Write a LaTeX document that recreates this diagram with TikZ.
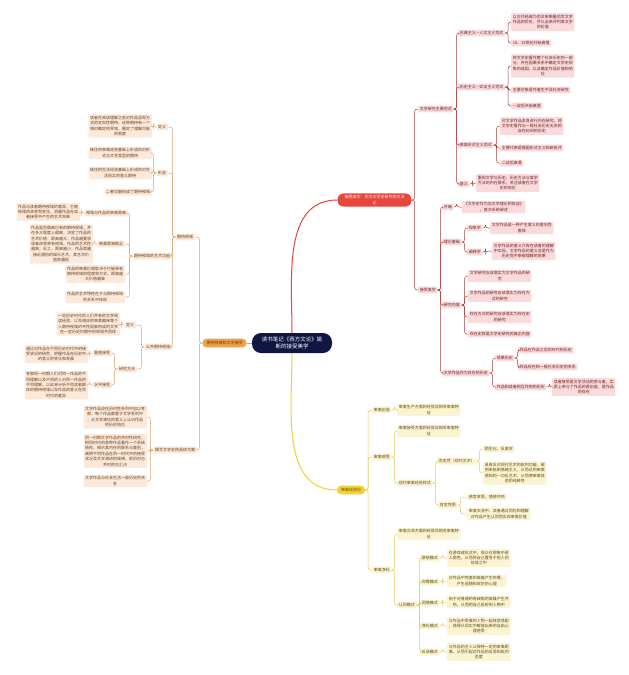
\documentclass[tikz,border=0pt]{standalone}
\usepackage{fontspec}
\setmainfont{Noto Sans CJK SC}
\definecolor{navy}{HTML}{101641}
\definecolor{redmain}{HTML}{E8453C}
\definecolor{redfill}{HTML}{FADADB}
\definecolor{redtext}{HTML}{6B1F1F}
\definecolor{redline}{HTML}{A63A3A}
\definecolor{yelmain}{HTML}{F5D130}
\definecolor{yelfill}{HTML}{FCF3D2}
\definecolor{yeltext}{HTML}{5A4A10}
\definecolor{yelline}{HTML}{E5C85A}
\definecolor{ormain}{HTML}{F0A045}
\definecolor{orfill}{HTML}{FBEADC}
\definecolor{ortext}{HTML}{6A3A15}
\definecolor{orline}{HTML}{D9A46A}
\newcommand\mapfont{\fontsize{4}{5.4}\selectfont}
\tikzset{
  box/.style={font=\mapfont,align=center,inner sep=1.6pt,rounded corners=1pt},
  rbox/.style={box,fill=redfill,text=redtext,anchor=west},
  ybox/.style={box,fill=yelfill,text=yeltext,anchor=west},
  obox/.style={box,fill=orfill,text=ortext,anchor=east},
  rgt/.style={to path={(\tikztostart.east) -- ++(3pt,0) |- (\tikztotarget.west)}},
  lft/.style={to path={(\tikztostart.west) -- ++(-3pt,0) |- (\tikztotarget.east)}},
}
\begin{document}
\begin{tikzpicture}[x=1pt,y=-1pt]
  \fill[white] (0,0) rectangle (629,675);
  \useasboundingbox (0,0) rectangle (629,675);

  % centre and the three branches
  \node[fill=navy,text=white,font=\fontsize{5.5}{7.5}\selectfont,align=center,
        rounded corners=9pt,minimum width=80pt,minimum height=20pt,inner sep=2pt]
    (root) at (292,343) {读书笔记《西方文论》姚\\斯的接受美学};
  \node[fill=redmain,text=white,font=\mapfont,align=center,rounded corners=6pt,
        inner xsep=7pt,inner ysep=2pt] (accept) at (374.5,200)
    {接受美学：作为文学史研究的方法\\论};
  \node[fill=yelmain,text=yeltext,font=\mapfont,rounded corners=4pt,
        inner xsep=4pt,inner ysep=2.5pt] (aes) at (351,490) {审美经验论};
  \node[fill=ormain,text=ortext,font=\mapfont,rounded corners=4pt,
        inner xsep=4pt,inner ysep=2.5pt] (expect) at (224.5,343) {期待视域和文学接受};

  % red branch
  \node[rbox] (para) at (418,109) {文学研究主要范式};
  \node[rbox] (para1) at (458,33) {古典主义—人文主义范式};
  \node[rbox] (para1a) at (511,22) {以古代经典为范本来衡量后世文学\\作品的优劣，并以此来评判某文学\\的价值};
  \node[rbox] (para1b) at (511,43) {18、19世纪开始衰落};
  \node[rbox] (para2) at (458,87) {历史主义—实证主义范式};
  \node[rbox] (para2a) at (511,66) {将文学史看作整个社会历史的一部\\分，并在因果关系中确定文学史现\\象的成因，以此确定作品价值和地\\位};
  \node[rbox] (para2b) at (511,90) {主要对象是作者生平及社会研究};
  \node[rbox] (para2c) at (511,106) {一战后开始衰落};
  \node[rbox] (para3) at (458,145) {审美形式主义范式};
  \node[rbox] (para3a) at (500,126) {对文学作品本身进行内在研究，将\\文学史看作与一般社会历史无关的\\自在封闭的历史};
  \node[rbox] (para3b) at (500,148) {主要代表是俄国形式主义和新批评};
  \node[rbox] (para3c) at (500,163) {二战后衰落};
  \node[rbox] (para4) at (458,184) {意义};
  \node[rbox] (para4a) at (476,183) {重视文学与历史、历史方法与美学\\方法的内在联系，关注读者在文学\\史的地位};

  \node[rbox] (rec) at (418,290) {接受美学};
  \node[rbox] (start) at (442,207) {开端};
  \node[rbox] (startx) at (462,207) {《文学史作为向文学理论的挑战》\\，首次系统阐述};
  \node[rbox] (base) at (442,242) {理论基础};
  \node[rbox] (phen) at (467,228) {现象学};
  \node[rbox] (phenx) at (490,228) {文学作品是一种产生意义的意向性\\客体};
  \node[rbox] (herm) at (467,252) {阐释学};
  \node[rbox] (hermx) at (492,251) {文学作品的意义只有在读者的理解\\中实现，文学作品的意义总是作为\\历史而不断被理解的效果};
  \node[rbox] (cont) at (442,305) {研究内容};
  \node[rbox] (cont1) at (468,276) {文学研究应该落实为文学作品的研\\究};
  \node[rbox] (cont2) at (468,296) {文学作品的研究应该落实为存在方\\式的研究};
  \node[rbox] (cont3) at (468,317) {存在方式的研究应该落实为存在史\\的研究};
  \node[rbox] (cont4) at (468,334) {存在史就是文学史研究的真正内容};
  \node[rbox] (hist) at (442,373) {文学作品作为存在的历史};
  \node[rbox] (eff) at (495,358) {效果历史};
  \node[rbox] (eff1) at (518,350) {作品在作品之后的时代的历史};
  \node[rbox] (eff2) at (518,367) {作品存在和一般社会历史的关系};
  \node[rbox] (inter) at (495,387) {作品和读者相互作用的历史};
  \node[rbox] (interx) at (552,387) {读者接受是文学活动的参与者，实\\质上参与了作品的再创造，是作品\\的存在};

  % yellow branch
  \node[ybox] (poi) at (372,410) {审美创造};
  \node[ybox] (poix) at (397,410) {审美生产方面的经验及相关审美特\\征};
  \node[ybox] (ais) at (372,457) {审美感受};
  \node[ybox] (aisx) at (397,431) {审美接受方面的经验及相关审美特\\征};
  \node[ybox] (modern) at (397,483) {现代审美经验样式};
  \node[ybox] (neg) at (437,461) {否定性（现代艺术）};
  \node[ybox] (neg1) at (483,449) {陌生化、反美学};
  \node[ybox] (neg2) at (483,473) {具有反对现代艺术的批判功能，被\\用来抵制情绪主义，从而达到审美\\感知的一切反艺术，从而使审美体\\验的纯粹性};
  \node[ybox] (pos) at (438,505) {肯定性质};
  \node[ybox] (pos1) at (467,497) {感官享受、情感共鸣};
  \node[ybox] (pos2) at (467,514) {审美交流中，读者通过同化和理解\\对作品产生认同而实现审美价值};
  \node[ybox] (kath) at (372,570) {审美净化};
  \node[ybox] (kathx) at (397,534) {审美交流方面的经验及相关审美特\\征};
  \node[ybox] (ident) at (397,605) {认同模式};
  \node[ybox] (m1) at (420,558) {联想模式};
  \node[ybox] (m1x) at (447,558) {在游戏或仪式中，观众在想象中进\\入角色，从而将自己置身于他人的\\处境之中};
  \node[ybox] (m2) at (420,582) {仰慕模式};
  \node[ybox] (m2x) at (447,581) {对作品中完美的英雄产生钦慕，\\产生追随和效仿的心理};
  \node[ybox] (m3) at (420,603) {同情模式};
  \node[ybox] (m3x) at (447,602) {由于对普通的有缺陷的英雄产生共\\鸣，从而把自己投射到人物中};
  \node[ybox] (m4) at (420,626) {净化模式};
  \node[ybox] (m4x) at (447,626) {与作品中受难的人物一起体验悲剧\\，获得从现实中解放出来的自由心\\理感受};
  \node[ybox] (m5) at (420,652) {反讽模式};
  \node[ybox] (m5x) at (447,652) {与作品的主人公保持一定的审美距\\离，从而引起对作品的反思和批判\\态度};

  % orange branch
  \node[obox] (hor) at (195,237) {期待视域};
  \node[obox] (def) at (168,127) {定义};
  \node[obox] (defx) at (152,126) {读者在阅读理解之前对作品显现方\\式的定向性期待，这种期待有一个\\相对确定的界域，圈定了理解可能\\的限度};
  \node[obox] (form) at (168,173) {形态};
  \node[obox] (form1) at (152,153) {既往的审美经验基础上形成的对形\\式与文学类型的期待};
  \node[obox] (form2) at (152,173) {既往的生活经验基础上形成的对生\\活现实的意义期待};
  \node[obox] (form3) at (152,192) {二者交融构成了期待视域};
  \node[obox] (rel) at (172,256) {期待视域的艺术功能};
  \node[obox] (rel1) at (128,213) {视域与作品的审美距离};
  \node[obox] (rel1x) at (80,212) {作品与读者期待视域的差异，它随\\视域的改变而变化，测量作品在读\\者接受中产生的艺术效果};
  \node[obox] (rel2) at (125,244) {审美距离概念};
  \node[obox] (rel2x) at (93,244) {作品是否偏离已有的期待视域，并\\在多大程度上偏离，决定了作品的\\艺术价值：距离越大，作品越要求\\读者改变原有视域，作品的艺术性\\越高；反之，距离越小，作品就越\\接近通俗的娱乐艺术，其艺术价\\值就越低};
  \node[obox] (rel3) at (125,274) {作品的审美价值取决于打破原有\\期待视域的程度和方式，距离越\\大价值越高};
  \node[obox] (rel4) at (125,297) {作品的艺术特性在于与期待视域\\的关系中体现};
  \node[obox] (pub) at (172,347) {公共期待视域};
  \node[obox] (pdef) at (136,325) {定义};
  \node[obox] (pdefx) at (120,324) {一定历史时代的人们共有的文学阅\\读经验，以及相应的审美趣味等个\\人期待视域的共性因素构成的文学\\在一定历史时期中的视域共同体};
  \node[obox] (meth) at (137,369) {研究方法};
  \node[obox] (vert) at (112,353) {垂直接受};
  \node[obox] (vertx) at (88,354) {通过对作品在不同历史时代中的接\\受状况的研究，把握作品在历史中\\的意义的变化和发展};
  \node[obox] (horz) at (112,385) {水平接受};
  \node[obox] (horzx) at (88,385) {考察同一时期人们对同一作品的不\\同理解以及不同的人对同一作品的\\不同理解，以此来分析不同读者群\\体的期待视域以及作品的意义在同\\时代的差异};
  \node[obox] (plan) at (197,450) {撰写文学史的具体方案};
  \node[obox] (plan1) at (147,417) {文学作品应在历时性系列中加以考\\察，每个作品都置于文学系列中\\，从文学演化的意义上认识作品\\的历史地位};
  \node[obox] (plan2) at (147,451) {同一时期文学作品的共时性研究，\\把同时代的各种作品看作一个系统\\结构，揭示其内在的联系与差别，\\阐明不同作品在同一时代中的接受\\状况及文学演进的规律，即历时与\\共时的交汇点};
  \node[obox] (plan3) at (147,481) {文学作品与社会生活一般历史的关\\系};

  % main links
  \draw[redmain,line width=1pt] (root.north) to[out=90,in=180] (accept.west);
  \draw[yelmain,line width=1pt] (root.south) to[out=-90,in=180] (aes.west);
  \draw[ormain,line width=1pt] (root.west) -- (expect.east);

  \begin{scope}[redline,line width=0.5pt,rounded corners=2.5pt]
    \draw (accept) to[rgt] (para);
    \draw (accept) to[rgt] (rec);
    \draw (para) to[rgt] (para1);
    \draw (para) to[rgt] (para2);
    \draw (para) to[rgt] (para3);
    \draw (para) to[rgt] (para4);
    \draw (para1) to[rgt] (para1a);
    \draw (para1) to[rgt] (para1b);
    \draw (para2) to[rgt] (para2a);
    \draw (para2) to[rgt] (para2b);
    \draw (para2) to[rgt] (para2c);
    \draw (para3) to[rgt] (para3a);
    \draw (para3) to[rgt] (para3b);
    \draw (para3) to[rgt] (para3c);
    \draw (para4) to[rgt] (para4a);
    \draw (rec) to[rgt] (start);
    \draw (rec) to[rgt] (base);
    \draw (rec) to[rgt] (cont);
    \draw (rec) to[rgt] (hist);
    \draw (start) to[rgt] (startx);
    \draw (base) to[rgt] (phen);
    \draw (base) to[rgt] (herm);
    \draw (phen) to[rgt] (phenx);
    \draw (herm) to[rgt] (hermx);
    \draw (cont) to[rgt] (cont1);
    \draw (cont) to[rgt] (cont2);
    \draw (cont) to[rgt] (cont3);
    \draw (cont) to[rgt] (cont4);
    \draw (hist) to[rgt] (eff);
    \draw (hist) to[rgt] (inter);
    \draw (eff) to[rgt] (eff1);
    \draw (eff) to[rgt] (eff2);
    \draw (inter) to[rgt] (interx);
  \end{scope}

  \begin{scope}[yelline,line width=0.5pt,rounded corners=2.5pt]
    \draw (aes) to[rgt] (poi);
    \draw (aes) to[rgt] (ais);
    \draw (aes) to[rgt] (kath);
    \draw (poi) to[rgt] (poix);
    \draw (ais) to[rgt] (aisx);
    \draw (ais) to[rgt] (modern);
    \draw (modern) to[rgt] (neg);
    \draw (modern) to[rgt] (pos);
    \draw (neg) to[rgt] (neg1);
    \draw (neg) to[rgt] (neg2);
    \draw (pos) to[rgt] (pos1);
    \draw (pos) to[rgt] (pos2);
    \draw (kath) to[rgt] (kathx);
    \draw (kath) to[rgt] (ident);
    \draw (ident) to[rgt] (m1);
    \draw (ident) to[rgt] (m2);
    \draw (ident) to[rgt] (m3);
    \draw (ident) to[rgt] (m4);
    \draw (ident) to[rgt] (m5);
    \draw (m1) to[rgt] (m1x);
    \draw (m2) to[rgt] (m2x);
    \draw (m3) to[rgt] (m3x);
    \draw (m4) to[rgt] (m4x);
    \draw (m5) to[rgt] (m5x);
  \end{scope}

  \begin{scope}[orline,line width=0.5pt,rounded corners=2.5pt]
    \draw (expect) to[lft] (hor);
    \draw (expect) to[lft] (plan);
    \draw (hor) to[lft] (def);
    \draw (hor) to[lft] (form);
    \draw (hor) to[lft] (rel);
    \draw (hor) to[lft] (pub);
    \draw (def) to[lft] (defx);
    \draw (form) to[lft] (form1);
    \draw (form) to[lft] (form2);
    \draw (form) to[lft] (form3);
    \draw (rel) to[lft] (rel1);
    \draw (rel) to[lft] (rel2);
    \draw (rel) to[lft] (rel3);
    \draw (rel) to[lft] (rel4);
    \draw (rel1) to[lft] (rel1x);
    \draw (rel2) to[lft] (rel2x);
    \draw (pub) to[lft] (pdef);
    \draw (pub) to[lft] (meth);
    \draw (pdef) to[lft] (pdefx);
    \draw (meth) to[lft] (vert);
    \draw (meth) to[lft] (horz);
    \draw (vert) to[lft] (vertx);
    \draw (horz) to[lft] (horzx);
    \draw (plan) to[lft] (plan1);
    \draw (plan) to[lft] (plan2);
    \draw (plan) to[lft] (plan3);
  \end{scope}
\end{tikzpicture}
\end{document}
